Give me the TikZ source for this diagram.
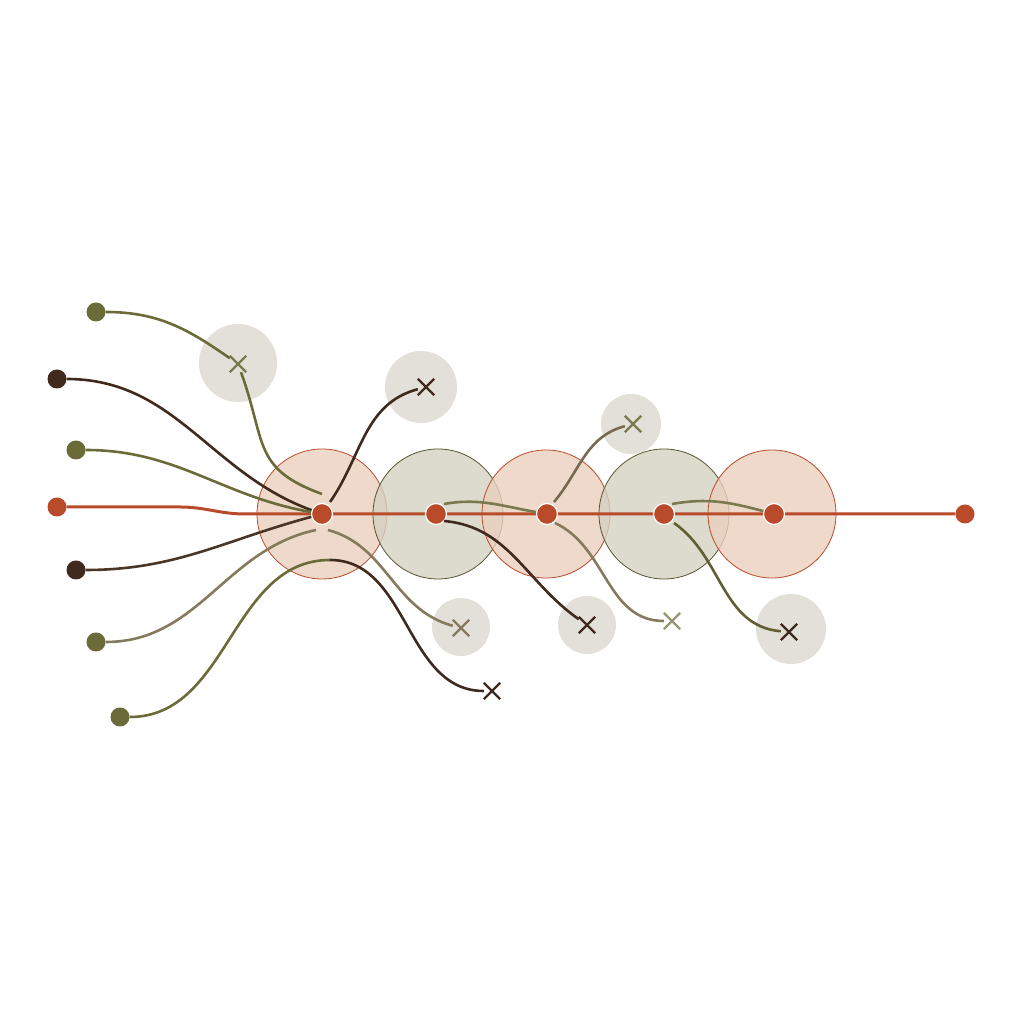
\documentclass[tikz,border=0pt]{standalone}
\usetikzlibrary{shapes.misc, positioning}
\definecolor{rust}{HTML}{B94B2B}
\definecolor{olive}{HTML}{6B6B3A}
\definecolor{umber}{HTML}{3F2A1D}
\definecolor{taupe}{HTML}{857A5D}
\definecolor{peach}{HTML}{EACFBE}
\definecolor{sage}{HTML}{D4D1C2}
\definecolor{mist}{HTML}{E3E0D9}
\tikzset{
  dot/.style={circle, fill=#1, inner sep=0pt, minimum size=19pt},
  hub/.style={circle, fill=rust, draw=white, line width=1.2pt, inner sep=0pt, minimum size=21pt},
  zone/.style={circle, fill=#1, fill opacity=0.8, line width=0.8pt, inner sep=0pt, minimum size=130pt},
  halo/.style={circle, fill=mist, inner sep=0pt, minimum size=#1},
  stop/.style={cross out, draw=#1, line width=2.4pt, inner sep=0pt, minimum size=14pt},
  wire/.style={draw=#1, line width=2.6pt},
}
\begin{document}
\begin{tikzpicture}[x=1pt, y=1pt]
  \useasboundingbox (0,0) rectangle (1024,1024);

  \node[zone=peach, draw=rust] (c1) at (322,510) {};
  \node[zone=sage, draw=olive!80!black] (c2) at (438,510) {};
  \node[zone=peach, draw=rust, minimum size=128pt] (c3) at (546,510) {};
  \node[zone=sage, draw=olive!80!black] (c4) at (664,510) {};
  \node[zone=peach, draw=rust, minimum size=128pt] (c5) at (772,510) {};

  \node[halo=78pt] (a1) at (238,661) {};
  \node[halo=72pt] (a2) at (421,637) {};
  \node[halo=58pt] (a3) at (461,397) {};
  \node[halo=58pt] (a5) at (587,399) {};
  \node[halo=60pt] (a6) at (631,600) {};
  \node[halo=70pt] (a8) at (791,395) {};

  \node[dot=olive] (s1) at (96,712) {};
  \node[dot=umber] (s2) at (57,645) {};
  \node[dot=olive] (s3) at (76,574) {};
  \node[dot=rust] (s4) at (57,517) {};
  \node[dot=umber] (s5) at (76,454) {};
  \node[dot=olive] (s6) at (96,382) {};
  \node[dot=olive] (s7) at (120,307) {};
  \node[dot=rust] (e) at (965,510) {};

  \coordinate (m1) at (180,517);
  \coordinate (m2) at (245,510);
  \draw[wire=rust, line width=3pt] (s4) -- (m1) to[out=0, in=180] (m2) -- (e);

  \node[hub] (h1) at (322,510) {};
  \node[hub] (h2) at (436,510) {};
  \node[hub] (h3) at (547,510) {};
  \node[hub] (h4) at (664,510) {};
  \node[hub] (h5) at (774,510) {};

  \node[stop=olive!90] (x1) at (238,660) {};
  \node[stop=umber] (x2) at (426,637) {};
  \node[stop=taupe] (x3) at (461,396) {};
  \node[stop=umber] (x4) at (492,333) {};
  \node[stop=umber] (x5) at (587,399) {};
  \node[stop=olive!90] (x6) at (633,600) {};
  \node[stop=olive!70] (x7) at (672,403) {};
  \node[stop=umber] (x8) at (789,392) {};

  \coordinate (g1) at (322,530);
  \coordinate (g2) at (316,494);
  \coordinate (g3) at (328,494);
  \coordinate (g4) at (330,522);
  \coordinate (g5) at (444,520);
  \coordinate (g6) at (444,503);
  \coordinate (g7) at (554,522);
  \coordinate (g8) at (555,501);
  \coordinate (g9) at (672,520);
  \coordinate (g10) at (674,501);
  \coordinate (p7) at (330,464);

  \draw[wire=olive] (s1) to[out=0, in=145] (x1);
  \draw[wire=olive] (x1) to[out=-70, in=160, looseness=1.3] (g1);
  \draw[wire=umber] (s2) to[out=0, in=160] (h1);
  \draw[wire=olive] (s3) to[out=0, in=170] (h1);
  \draw[wire=umber!85!taupe] (s5) to[out=0, in=195] (h1);
  \draw[wire=taupe] (s6) to[out=0, in=192] (g2);
  \draw[wire=taupe] (g3) to[out=-15, in=165] (x3);
  \draw[wire=olive] (s7) to[out=0, in=180] (p7);
  \draw[wire=umber] (p7) to[out=0, in=180] (x4);
  \draw[wire=umber] (g4) to[out=55, in=195] (x2);
  \draw[wire=olive!90] (g5) to[out=10, in=170] (h3);
  \draw[wire=umber] (g6) to[out=-5, in=145] (x5);
  \draw[wire=taupe!80!umber] (g7) to[out=50, in=195] (x6);
  \draw[wire=taupe] (g8) to[out=-25, in=180] (x7);
  \draw[wire=olive!90] (g9) to[out=10, in=165] (h5);
  \draw[wire=olive!80!umber] (g10) to[out=-35, in=175] (x8);
\end{tikzpicture}
\end{document}
